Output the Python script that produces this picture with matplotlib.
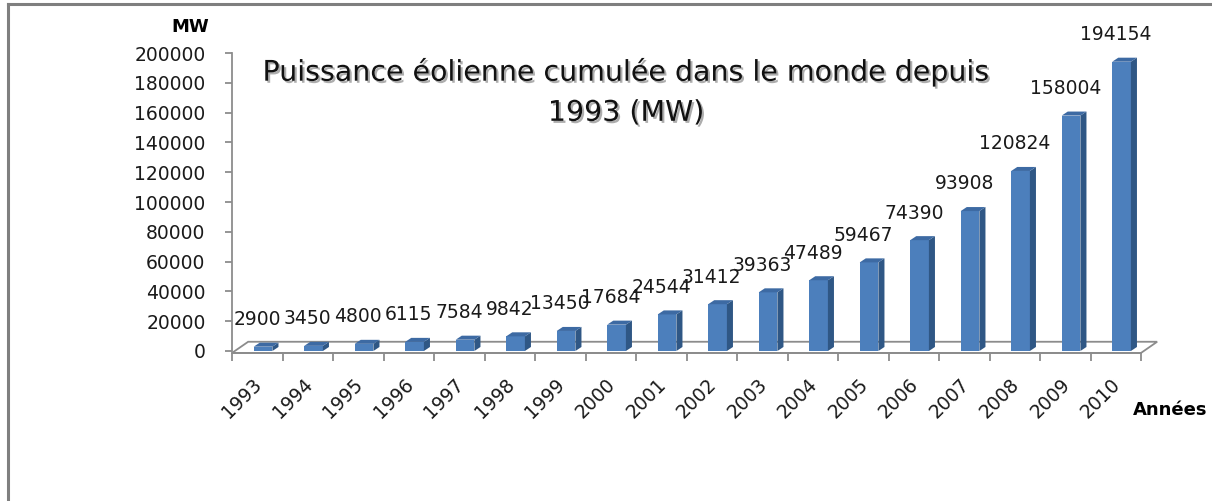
import matplotlib
matplotlib.use("Agg")
import numpy as np
import matplotlib.pyplot as plt
import matplotlib.patheffects as pe
from matplotlib.patches import Polygon

years = ["1993", "1994", "1995", "1996", "1997", "1998", "1999", "2000", "2001",
         "2002", "2003", "2004", "2005", "2006", "2007", "2008", "2009", "2010"]
mw = [2900, 3450, 4800, 6115, 7584, 9842, 13450, 17684, 24544,
      31412, 39363, 47489, 59467, 74390, 93908, 120824, 158004, 194154]
yticks = [0, 20000, 40000, 60000, 80000, 100000, 120000, 140000, 160000, 180000, 200000]

W, H = 1212, 501
fig = plt.figure(figsize=(W / 100, H / 100), dpi=100)

# outer frame (left + top)
fig.add_artist(plt.Line2D([8 / W, 8 / W], [0, 1 - 4 / H], color="#7f7f7f", lw=2.2,
                          transform=fig.transFigure))
fig.add_artist(plt.Line2D([8 / W, 1], [1 - 4 / H, 1 - 4 / H], color="#7f7f7f", lw=2.2,
                          transform=fig.transFigure))

ax = fig.add_axes([232 / W, (H - 351) / H, 909 / W, 298 / H])
ax.set_xlim(-0.5, 17.5)
ax.set_ylim(0, 200000)

grey = "#8c8c8c"
front = "#4c7fbc"
side = "#2f5785"
top = "#3d6aa3"

# spines first (set_position resets the ticks)
for s in ["top", "right"]:
    ax.spines[s].set_visible(False)
ax.spines["left"].set_color(grey)
ax.spines["left"].set_linewidth(1.3)
ax.spines["left"].set_bounds(0, 200000)
ax.spines["bottom"].set_color(grey)
ax.spines["bottom"].set_linewidth(1.3)
ax.spines["bottom"].set_position(("data", -1300))

# floor of the 3D plot
fdx, fdy = 0.32, 7500
floor = Polygon([(-0.5, -1300), (17.5, -1300), (17.5 + fdx, -1300 + fdy), (-0.5 + fdx, -1300 + fdy)],
                closed=True, facecolor="none", edgecolor=grey, lw=1.3, clip_on=False, zorder=1)
ax.add_patch(floor)

# bars: front face via ax.bar, side and top faces as polygons
x = np.arange(len(mw))
bw, dx, dy = 0.37, 0.12, 2700
left = x - 0.07
ax.bar(left, mw, width=bw, align="edge", color=front, edgecolor="none", zorder=3)
for xl, v in zip(left, mw):
    ax.add_patch(Polygon([(xl + bw, 0), (xl + bw + dx, dy), (xl + bw + dx, v + dy), (xl + bw, v)],
                         closed=True, facecolor=side, edgecolor="none", zorder=3, clip_on=False))
    ax.add_patch(Polygon([(xl, v), (xl + bw, v), (xl + bw + dx, v + dy), (xl + dx, v + dy)],
                         closed=True, facecolor=top, edgecolor="none", zorder=3, clip_on=False))

# data labels
for xi, v in zip(x, mw):
    ax.annotate(str(v), (xi, v), xytext=(0, 19.5), textcoords="offset points",
                ha="center", va="center", fontsize=13.5, color="#1a1a1a", zorder=5)

ax.set_yticks(yticks)
ax.set_yticklabels([str(t) for t in yticks])
ax.tick_params(axis="y", length=5, color=grey, width=1.3, pad=14, labelsize=13.5, labelcolor="#1a1a1a")

ax.set_xticks(x - 0.1)
ax.set_xticks(np.arange(-0.5, 18, 1), minor=True)
ax.tick_params(axis="x", which="major", length=0, pad=16, labelsize=13.5, labelcolor="#1a1a1a")
ax.tick_params(axis="x", which="minor", length=6, color=grey, width=1.3)
ax.set_xticklabels(years)
plt.setp(ax.get_xticklabels(), rotation=45, ha="right", rotation_mode="anchor")

fig.text(190 / W, 1 - 27 / H, "MW", ha="center", va="center", fontsize=13, fontweight="bold")
fig.text(1170 / W, 1 - 410 / H, "Années", ha="center", va="center", fontsize=13, fontweight="bold")

fig.text(626 / W, 1 - 92 / H, "Puissance éolienne cumulée dans le monde depuis\n1993 (MW)",
         ha="center", va="center", fontsize=20.5, linespacing=1.55, color="#111111",
         path_effects=[pe.withSimplePatchShadow(offset=(1.5, -1.5), shadow_rgbFace="#777777", alpha=0.6)])

fig.savefig("out.png", dpi=100)
